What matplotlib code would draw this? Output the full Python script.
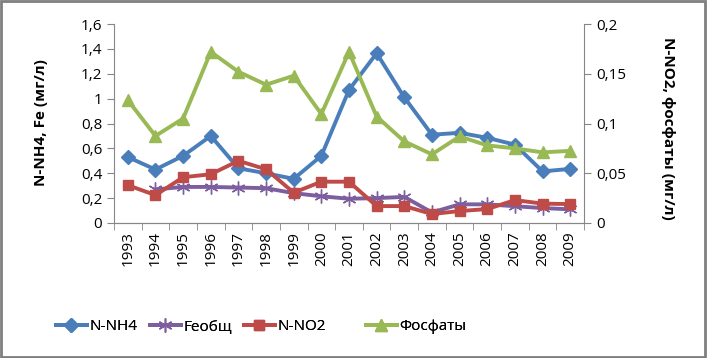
import numpy as np
import matplotlib.pyplot as plt
from matplotlib.patches import Rectangle

plt.rcParams['font.family'] = ['Open Sans', 'DejaVu Sans']

years = ['1993', '1994', '1995', '1996', '1997', '1998', '1999', '2000', '2001',
         '2002', '2003', '2004', '2005', '2006', '2007', '2008', '2009']
# left axis (мг/л)
nh4 = [0.53, 0.43, 0.54, 0.70, 0.44, 0.40, 0.355, 0.54, 1.07,
       1.365, 1.01, 0.71, 0.725, 0.685, 0.63, 0.415, 0.435]
fe = [np.nan, 0.27, 0.29, 0.29, 0.285, 0.28, 0.24, 0.215, 0.195,
      0.20, 0.21, 0.085, 0.15, 0.15, 0.135, 0.12, 0.11]
# right axis (мг/л)
no2 = [0.038, 0.028, 0.046, 0.049, 0.0625, 0.054, 0.0305, 0.0415, 0.0415,
       0.017, 0.017, 0.009, 0.012, 0.014, 0.023, 0.0195, 0.019]
po4 = [0.1235, 0.0875, 0.105, 0.172, 0.152, 0.139, 0.148, 0.1095, 0.172,
       0.107, 0.082, 0.069, 0.087, 0.078, 0.075, 0.071, 0.0725]

x = np.arange(len(years))

fig = plt.figure(figsize=(7.08, 3.58), dpi=100)
ax = fig.add_axes([114 / 708, 1 - 223 / 358, 470 / 708, 199 / 358])
ax2 = ax.twinx()

l1, = ax.plot(x, nh4, color='#4a7ebb', lw=2.8, marker='D', ms=7, label='N-NH4', zorder=3)
l2, = ax.plot(x, fe, color='#7d5fa0', lw=2.8, marker=(6, 2, 0), ms=10, mew=1,
              label='Feобщ', zorder=2)
l3, = ax2.plot(x, no2, color='#be4b48', lw=2.8, marker='s', ms=7, label='N-NO2')
l4, = ax2.plot(x, po4, color='#98b954', lw=2.8, marker='^', ms=9, label='Фосфаты')

ax.set_ylim(0, 1.6)
ax2.set_ylim(0, 0.2)
ax.set_xlim(-0.5, len(years) - 0.5)
ax.set_yticks(np.arange(0, 1.61, 0.2))
ax.set_yticklabels(['0', '0,2', '0,4', '0,6', '0,8', '1', '1,2', '1,4', '1,6'])
ax2.set_yticks([0, 0.05, 0.1, 0.15, 0.2])
ax2.set_yticklabels(['0', '0,05', '0,1', '0,15', '0,2'])

ax.set_xticks(x)
ax.set_xticklabels(years, rotation=90)
ax.set_xticks(np.arange(-0.5, len(years), 1), minor=True)
ax.tick_params(axis='x', which='major', length=0, pad=6)
ax.tick_params(axis='x', which='minor', length=5, color='#868686')
ax.tick_params(axis='y', length=5, color='#868686')
ax2.tick_params(axis='y', length=5, color='#868686')
for a in (ax, ax2):
    a.tick_params(labelsize=11)
    a.spines['top'].set_visible(False)
    for s in ('left', 'right', 'bottom'):
        a.spines[s].set_color('#868686')
ax2.spines['left'].set_visible(False)
ax.spines['right'].set_visible(False)

fig.text(41 / 708, 1 - 123 / 358, 'N-NH4, Fe (мг/л)', rotation=90, ha='center',
         va='center', fontsize=11, fontweight='bold')
fig.text(668 / 708, 1 - 128 / 358, 'N-NO2, фосфаты (мг/л)', rotation=-90, ha='center',
         va='center', fontsize=11, fontweight='bold')

# legend entries sit in fixed-width slots, like the original
legend_x = [56, 150, 244, 366]
for h, lx in zip([l1, l2, l3, l4], legend_x):
    leg = fig.legend(handles=[h], loc='center left', frameon=False,
                     bbox_to_anchor=(lx / 708, 1 - 327 / 358), fontsize=11,
                     handlelength=2, handletextpad=0.2, borderpad=0, borderaxespad=0)
    fig.add_artist(leg)

fig.patches.append(Rectangle((0.002, 0.004), 0.994, 0.992, transform=fig.transFigure,
                             fill=False, edgecolor='#7f7f7f', lw=2))

fig.savefig('out.png', dpi=100)
